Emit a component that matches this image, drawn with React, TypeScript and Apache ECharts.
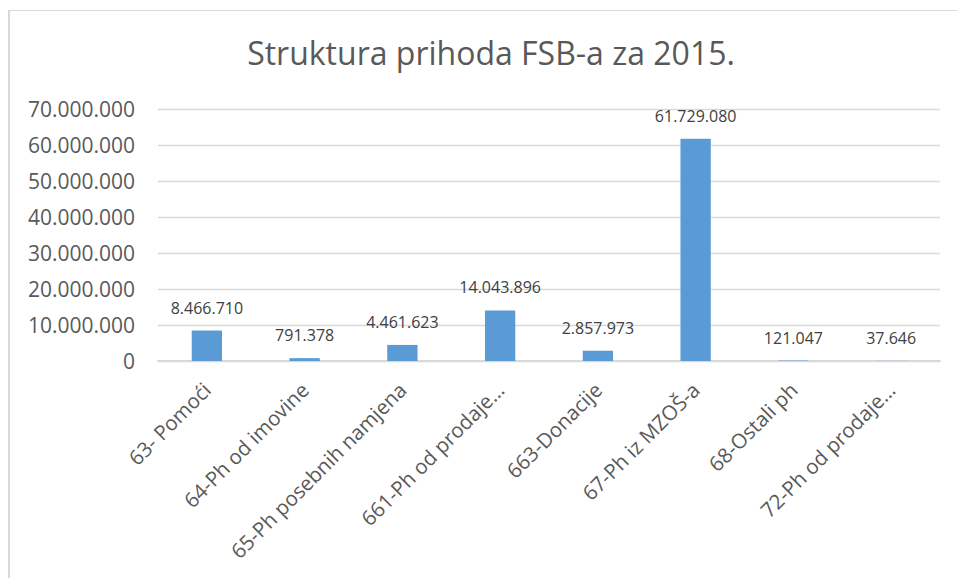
import React, { useEffect, useRef } from "react";
import * as echarts from "echarts";

const titleText = "Struktura prihoda FSB-a za 2015.";
const categories = [
  "63- Pomoći",
  "64-Ph od imovine",
  "65-Ph posebnih namjena",
  "661-Ph od prodaje…",
  "663-Donacije",
  "67-Ph iz MZOŠ-a",
  "68-Ostali ph",
  "72-Ph od prodaje…",
];
const values = [8466710, 791378, 4461623, 14043896, 2857973, 61729080, 121047, 37646];
const yMin = 0;
const yMax = 70000000;
const yInterval = 10000000;

const fmt = (v: number) => String(Math.round(v)).replace(/\B(?=(\d{3})+(?!\d))/g, ".");

const FONT = "'Open Sans', 'Noto Sans', sans-serif";

export default function App() {
  const ref = useRef<HTMLDivElement>(null);
  useEffect(() => {
    if (!ref.current) return;
    const chart = echarts.init(ref.current, undefined, { renderer: "svg" });
    chart.setOption({
      animation: false,
      backgroundColor: "#ffffff",
      textStyle: { fontFamily: FONT },
      graphic: [
        {
          type: "line",
          shape: { x1: 9, y1: 10, x2: 9, y2: 600 },
          style: { stroke: "#D9D9D9", lineWidth: 2 },
          silent: true,
        },
        {
          type: "line",
          shape: { x1: 8, y1: 10.5, x2: 970, y2: 10.5 },
          style: { stroke: "#D9D9D9", lineWidth: 1 },
          silent: true,
        },
        {
          type: "text",
          x: 491,
          y: 52,
          style: {
            text: titleText,
            fontFamily: FONT,
            fontSize: 32,
            fill: "#595959",
            textAlign: "center",
            textVerticalAlign: "middle",
          },
          silent: true,
        },
      ],
      grid: { left: 158, right: 17, top: 109, bottom: 217, containLabel: false },
      xAxis: {
        type: "category",
        data: categories,
        axisLine: { show: true, lineStyle: { color: "#D9D9D9", width: 2 } },
        axisTick: { show: false },
        axisLabel: {
          rotate: 45,
          interval: 0,
          margin: 25,
          padding: [8, 0, 0, 0],
          fontFamily: FONT,
          fontSize: 20.5,
          color: "#595959",
        },
      },
      yAxis: {
        type: "value",
        min: yMin,
        max: yMax,
        interval: yInterval,
        axisLine: { show: false },
        axisTick: { show: false },
        splitLine: { lineStyle: { color: "#D9D9D9", width: 1.3 } },
        axisLabel: {
          margin: 23,
          fontFamily: FONT,
          fontSize: 21,
          color: "#595959",
          formatter: (v: number) => fmt(v),
        },
      },
      series: [
        {
          type: "bar",
          data: values,
          barWidth: "31%",
          itemStyle: { color: "#5B9BD5" },
          label: {
            show: true,
            position: "top",
            distance: 15,
            fontFamily: FONT,
            fontSize: 16,
            color: "#404040",
            formatter: (p: any) => fmt(p.value),
          },
        },
      ],
    });
    return () => chart.dispose();
  }, []);
  return (
    <div
      ref={ref}
      style={{ position: "fixed", left: 0, top: 0, width: 957, height: 578 }}
    />
  );
}
